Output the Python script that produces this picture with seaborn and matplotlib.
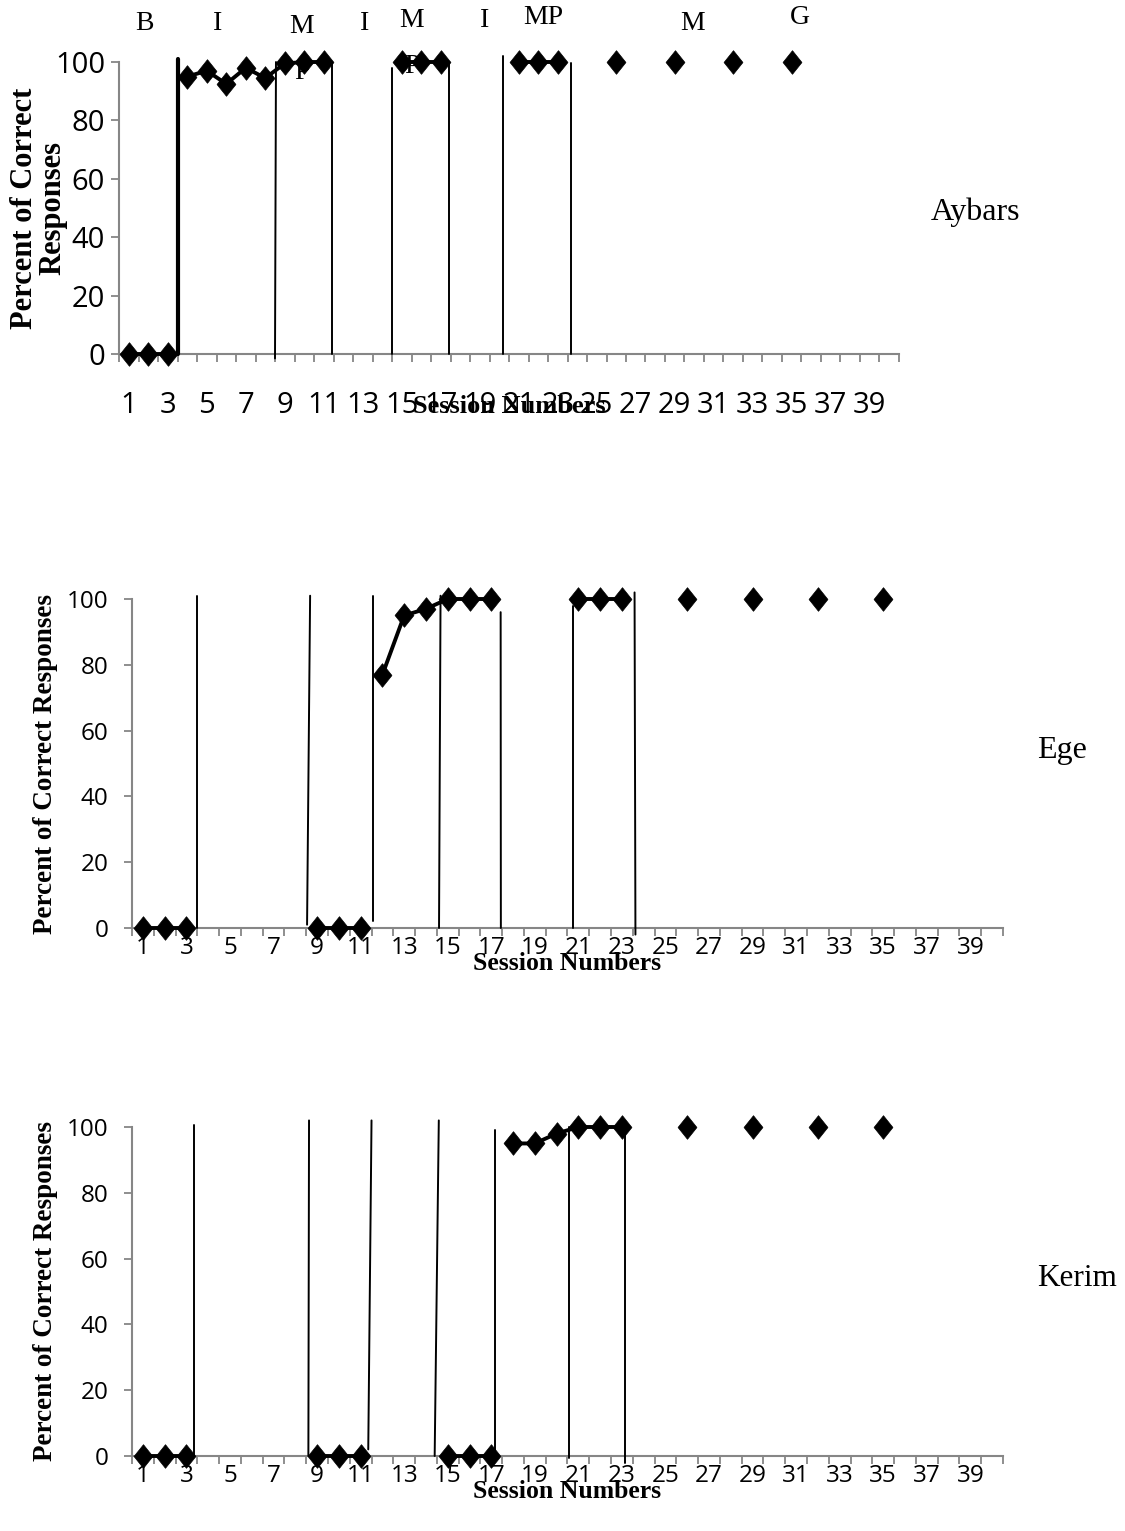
import numpy as np
import pandas as pd
import seaborn as sns
import matplotlib.pyplot as plt

# --- dados ---
session_ticks = list(range(1, 40, 2))
y_ticks = [0, 20, 40, 60, 80, 100]

aybars_session = [1, 2, 3, 4, 5, 6, 7, 8, 9, 10, 11, 15, 16, 17, 21, 22, 23, 26, 29, 32, 35]
aybars_pct = [0, 0, 0, 95, 97, 92.5, 98, 94.5, 99.5, 100, 100, 100, 100, 100, 100, 100, 100, 100, 100, 100, 100]
aybars_phase = [1, 1, 1, 2, 2, 2, 2, 2, 2, 2, 2, 3, 3, 3, 4, 4, 4, 5, 6, 7, 8]

ege_session = [1, 2, 3, 9, 10, 11, 12, 13, 14, 15, 16, 17, 21, 22, 23, 26, 29, 32, 35]
ege_pct = [0, 0, 0, 0, 0, 0, 77, 95, 97, 100, 100, 100, 100, 100, 100, 100, 100, 100, 100]
ege_phase = [1, 1, 1, 2, 2, 2, 3, 3, 3, 3, 3, 3, 4, 4, 4, 5, 6, 7, 8]

kerim_session = [1, 2, 3, 9, 10, 11, 15, 16, 17, 18, 19, 20, 21, 22, 23, 26, 29, 32, 35]
kerim_pct = [0, 0, 0, 0, 0, 0, 0, 0, 0, 95, 95, 98, 100, 100, 100, 100, 100, 100, 100]
kerim_phase = [1, 1, 1, 2, 2, 2, 3, 3, 3, 4, 4, 4, 4, 4, 4, 5, 6, 7, 8]

# linhas de mudança de fase: (sessão embaixo, sessão em cima), (y embaixo, y em cima)
aybars_lines_x = [(3.53, 3.53), (8.5, 8.55), (11.4, 11.4), (14.5, 14.5), (17.4, 17.4), (20.2, 20.2), (23.7, 23.7)]
aybars_lines_y = [(0, 101), (-1.5, 100), (0, 100), (0, 98), (0, 100), (0, 102), (0, 99.5)]
ege_lines_x = [(3.49, 3.49), (8.54, 8.68), (11.56, 11.56), (14.6, 14.67), (17.44, 17.43), (20.76, 20.76), (23.62, 23.58)]
ege_lines_y = [(0, 101), (1, 101), (2, 101), (0, 101), (0, 96), (0, 98), (-2, 102)]
kerim_lines_x = [(3.36, 3.36), (8.6, 8.63), (11.35, 11.5), (14.4, 14.59), (17.16, 17.16), (20.55, 20.55), (23.15, 23.15)]
kerim_lines_y = [(0, 100.5), (0, 102), (2, 102), (0, 102), (0, 99), (-0.5, 100), (-2, 99)]

phase_labels = ["B", "I", "M\nP", "I", "M\nP", "I", "MP", "M", "G"]
phase_label_x = [1.83, 5.53, 9.88, 13.1, 15.5, 19.27, 22.24, 29.9, 35.4]
phase_label_y = [117.5, 117.5, 116.5, 117.5, 118.5, 118.5, 119.5, 117.5, 119.5]

# --- estilo ---
sns.set_style("white")
plt.rcParams["font.family"] = ["Liberation Serif", "DejaVu Serif"]
plt.rcParams["text.color"] = "black"
plt.rcParams["axes.labelcolor"] = "black"
plt.rcParams["xtick.color"] = "black"
plt.rcParams["ytick.color"] = "black"
TICK_FONT = "Open Sans"
GRAY = "#868686"
diamond = [(0, 1), (0.8, 0), (0, -1), (-0.8, 0), (0, 1)]

fig = plt.figure(figsize=(11.25, 15.31), dpi=100)
ax_top = fig.add_axes([0.10578, 0.76878, 0.69333, 0.19072])
ax_mid = fig.add_axes([0.11733, 0.39386, 0.77422, 0.21489])
ax_bot = fig.add_axes([0.11733, 0.04899, 0.77422, 0.21489])


def draw_panel(ax, sessions, pct, phase, lines_x, lines_y, tick_fs, xpad, ypad, first_lw):
    df = pd.DataFrame({"session": sessions, "pct": pct, "phase": phase})
    sns.lineplot(data=df, x="session", y="pct", units="phase", estimator=None,
                 color="black", lw=2.8, marker=diamond, markersize=17,
                 mec="black", mew=0.5, clip_on=False, ax=ax, legend=False,
                 zorder=4)
    for i, (xs, ys) in enumerate(zip(lines_x, lines_y)):
        lw = first_lw if i == 0 else 1.4
        ax.plot(xs, ys, color="black", lw=lw, clip_on=False, zorder=3)

    ax.set_xlim(0.5, 40.5)
    ax.set_ylim(0, 100)
    sns.despine(ax=ax)
    for s in ["left", "bottom"]:
        ax.spines[s].set_color(GRAY)
        ax.spines[s].set_linewidth(1.5)
    ax.set_yticks(y_ticks)
    ax.set_xticks(session_ticks)
    ax.set_xticks(np.arange(0.5, 41, 1), minor=True)
    ax.tick_params(axis="y", direction="out", length=6, width=1.3, color=GRAY,
                   labelsize=tick_fs, pad=ypad, left=True, labelcolor="black")
    ax.tick_params(axis="x", which="major", length=0, labelsize=tick_fs,
                   pad=xpad, labelcolor="black")
    ax.tick_params(axis="x", which="minor", direction="out", length=6,
                   width=1.3, color=GRAY, bottom=True)
    for lab in ax.get_xticklabels() + ax.get_yticklabels():
        lab.set_fontfamily(TICK_FONT)


draw_panel(ax_top, aybars_session, aybars_pct, aybars_phase,
           aybars_lines_x, aybars_lines_y, 21, 27, 4, 3.0)
draw_panel(ax_mid, ege_session, ege_pct, ege_phase,
           ege_lines_x, ege_lines_y, 17.5, 6, 11, 1.4)
draw_panel(ax_bot, kerim_session, kerim_pct, kerim_phase,
           kerim_lines_x, kerim_lines_y, 17.5, 6, 11, 1.4)

# rótulos dos eixos
ax_top.set_xlabel("Session Numbers", fontsize=19, fontweight="bold")
ax_top.xaxis.set_label_coords(0.5, -0.14)
ax_top.set_ylabel("Percent of Correct\nResponses", fontsize=22,
                  fontweight="bold", linespacing=1.0)
ax_top.yaxis.set_label_coords(-0.066, 0.5)

for ax in [ax_mid, ax_bot]:
    ax.set_xlabel("Session Numbers", fontsize=18.5, fontweight="bold")
    ax.xaxis.set_label_coords(0.5, -0.074)
    ax.set_ylabel("Percent of Correct Responses", fontsize=19.5, fontweight="bold")
    ax.yaxis.set_label_coords(-0.085, 0.5)

# rótulos das fases (painel de cima)
for lab, x, y in zip(phase_labels, phase_label_x, phase_label_y):
    ax_top.text(x, y, lab, ha="center", va="top", fontsize=20,
                linespacing=2.1, clip_on=False, zorder=1)

# nomes dos participantes
ax_top.text(44.4, 48.6, "Aybars", ha="center", va="center", fontsize=23, clip_on=False)
ax_mid.text(43.2, 54, "Ege", ha="center", va="center", fontsize=23, clip_on=False)
ax_bot.text(43.9, 53.8, "Kerim", ha="center", va="center", fontsize=22.5, clip_on=False)

fig.savefig("out.png", dpi=100, facecolor="white")
